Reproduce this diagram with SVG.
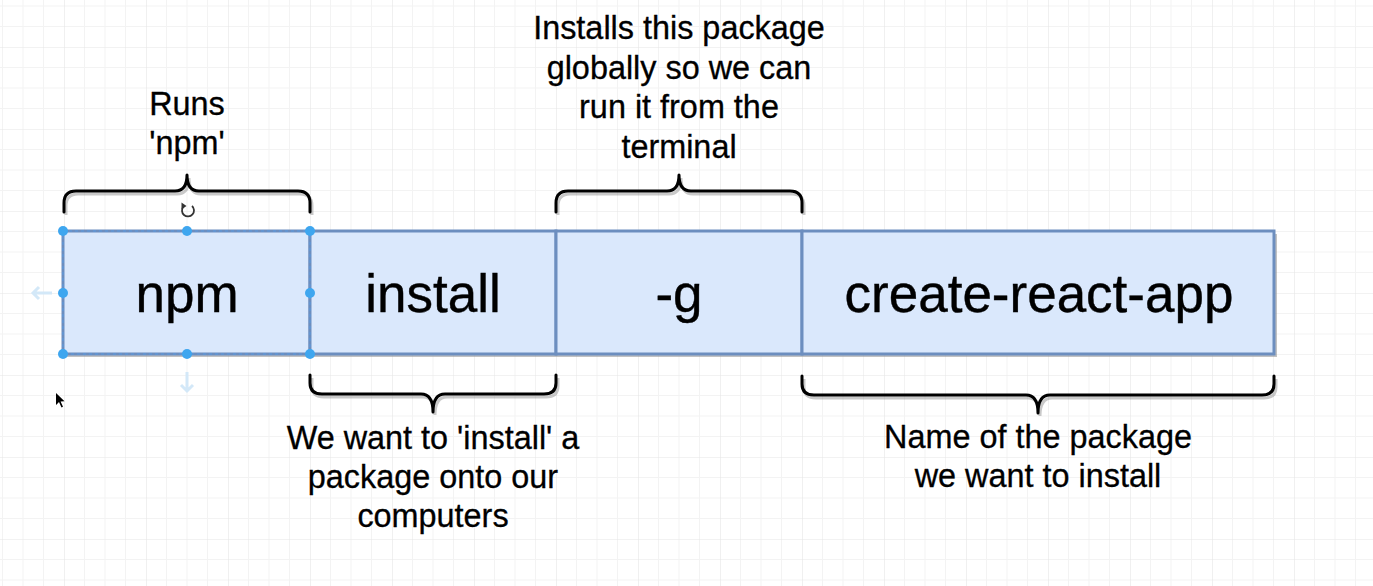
<svg xmlns="http://www.w3.org/2000/svg" width="1373" height="586" viewBox="0 0 1373 586">
<style>
.box{fill:#dae8fc;stroke:#6c8ebf;stroke-width:3}
.lbl{font-family:"Liberation Sans",Arial,sans-serif;font-size:53px;fill:#000;stroke:#000;stroke-width:0.4;text-anchor:middle}
.note{font-family:"Liberation Sans",Arial,sans-serif;font-size:32.4px;fill:#000;stroke:#000;stroke-width:0.3;text-anchor:middle}
.brace{fill:none;stroke:#000;stroke-width:3;stroke-linecap:round;stroke-linejoin:round}
.bshadow{fill:none;stroke:#888;stroke-width:3;opacity:.45}
.handle{fill:#3ea6ef}
.hint{fill:none;stroke:#d3e8f8;stroke-width:3}
</style>
<defs>
<pattern id="grid" patternUnits="userSpaceOnUse" x="64" y="47" width="82" height="82">
<path d="M20.5 0V82M41 0V82M61.5 0V82M0 20.5H82M0 41H82M0 61.5H82" stroke="#f3f3f3" stroke-width="1" fill="none"/>
<path d="M0 0V82M0 0H82" stroke="#e6e6e6" stroke-width="1.2" fill="none"/>
</pattern>
</defs>
<rect width="1373" height="586" fill="#ffffff"/>
<rect width="1373" height="586" fill="url(#grid)"/>

<rect x="66" y="234" width="1211" height="123" fill="#9a9a9a" opacity="0.6"/>

<g id="node-npm">
<rect class="box" x="63" y="231" width="247" height="123"/>
<text class="lbl" x="187" y="312">npm</text>
</g>
<g id="node-install">
<rect class="box" x="310" y="231" width="246" height="123"/>
<text class="lbl" x="433" y="312">install</text>
</g>
<g id="node-g">
<rect class="box" x="556" y="231" width="246" height="123"/>
<text class="lbl" x="679" y="312">-g</text>
</g>
<g id="node-cra">
<rect class="box" x="802" y="231" width="472" height="123"/>
<text class="lbl" x="1039" y="312">create-react-app</text>
</g>

<g id="selection">
<rect x="63" y="231" width="247" height="123" fill="none" stroke="#5b9ae0" stroke-width="1" stroke-dasharray="3 3"/>
<circle class="handle" cx="63" cy="231" r="5"/>
<circle class="handle" cx="187" cy="231" r="5"/>
<circle class="handle" cx="310" cy="231" r="5"/>
<circle class="handle" cx="63" cy="293" r="5"/>
<circle class="handle" cx="310" cy="293" r="5"/>
<circle class="handle" cx="63" cy="354" r="5"/>
<circle class="handle" cx="187" cy="354" r="5"/>
<circle class="handle" cx="310" cy="354" r="5"/>
<path class="hint" d="M52 293H33M39 287L33 293L39 299"/>
<path class="hint" d="M187 372V391M181 385L187 391L193 385"/>
<path d="M192 206A6 6 0 1 1 183.5 206.5" fill="none" stroke="#333" stroke-width="1.8"/>
<path d="M181.5 202.5L186.5 206L181.5 209.5Z" fill="#333"/>
<path d="M56 393L56 405L59 402L61.5 407.5L63 406.8L60.6 401.4L64.5 401.2Z" fill="#000"/>
</g>

<g id="braces">
<path class="bshadow" transform="translate(2,3)" d="M64 212L64 203Q64 191 76 191L175 191Q187 191 187 175Q187 191 199 191L298 191Q310 191 310 203L310 212"/>
<path class="brace" d="M64 212L64 203Q64 191 76 191L175 191Q187 191 187 175Q187 191 199 191L298 191Q310 191 310 203L310 212"/>
<path class="bshadow" transform="translate(2,3)" d="M556 212L556 203Q556 191 568 191L667 191Q679 191 679 175Q679 191 691 191L790 191Q802 191 802 203L802 212"/>
<path class="brace" d="M556 212L556 203Q556 191 568 191L667 191Q679 191 679 175Q679 191 691 191L790 191Q802 191 802 203L802 212"/>
<path class="bshadow" transform="translate(2,3)" d="M310 375L310 383Q310 394 322 394L421 394Q433 394 433 412Q433 394 445 394L544 394Q556 394 556 383L556 375"/>
<path class="brace" d="M310 375L310 383Q310 394 322 394L421 394Q433 394 433 412Q433 394 445 394L544 394Q556 394 556 383L556 375"/>
<path class="bshadow" transform="translate(2,3)" d="M802 376L802 384Q802 395 814 395L1026 395Q1038 395 1038 413Q1038 395 1050 395L1262 395Q1274 395 1274 384L1274 376"/>
<path class="brace" d="M802 376L802 384Q802 395 814 395L1026 395Q1038 395 1038 413Q1038 395 1050 395L1262 395Q1274 395 1274 384L1274 376"/>
</g>

<g id="note-npm">
<text class="note" x="187" y="115">Runs</text>
<text class="note" x="187" y="154">'npm'</text>
</g>
<g id="note-g">
<text class="note" x="679" y="39">Installs this package</text>
<text class="note" x="679" y="78.5">globally so we can</text>
<text class="note" x="679" y="118">run it from the</text>
<text class="note" x="679" y="157.5">terminal</text>
</g>
<g id="note-install">
<text class="note" x="433" y="449">We want to 'install' a</text>
<text class="note" x="433" y="488">package onto our</text>
<text class="note" x="433" y="527">computers</text>
</g>
<g id="note-cra">
<text class="note" x="1038" y="448">Name of the package</text>
<text class="note" x="1038" y="487">we want to install</text>
</g>
</svg>
